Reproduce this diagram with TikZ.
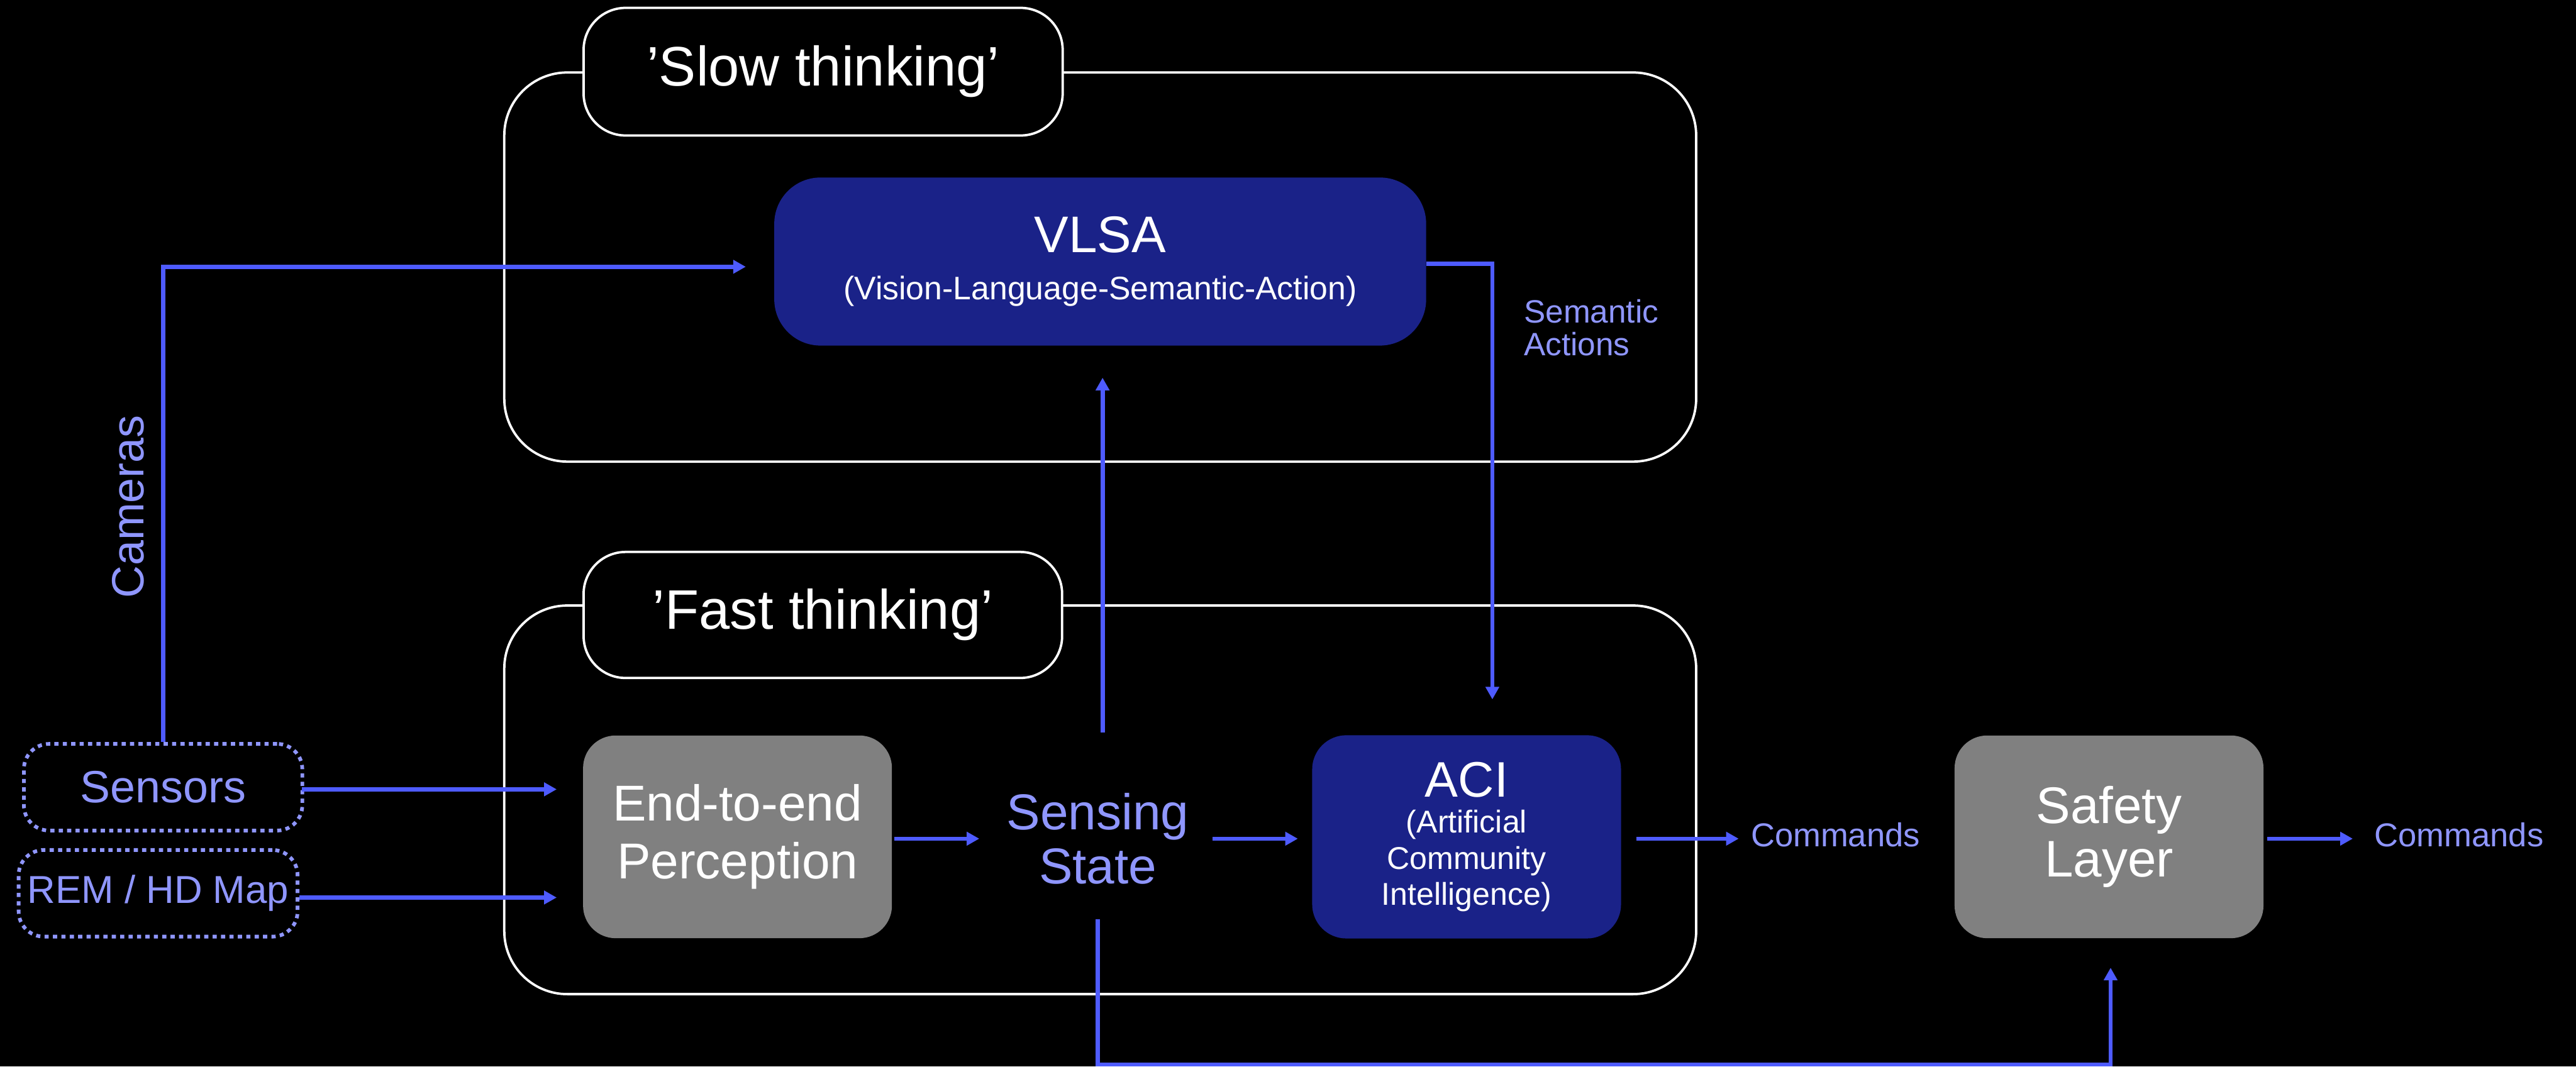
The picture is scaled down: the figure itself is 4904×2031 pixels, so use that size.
\documentclass[tikz,border=0pt]{standalone}
\usepackage{fontspec}
\setmainfont{Liberation Sans}
\usetikzlibrary{arrows.meta}
\definecolor{cblue}{HTML}{4E5BFF}
\definecolor{cpurple}{HTML}{8F96FF}
\definecolor{cnavy}{HTML}{1A2288}
\definecolor{cgray}{HTML}{808080}
\tikzset{
  conn/.style={draw=cblue, line width=8pt, -{Triangle[width=25pt,length=24pt]}},
  bigbox/.style={draw=white, line width=4.5pt, rounded corners=120pt, inner sep=0pt},
  labelbox/.style={draw=white, fill=black, line width=4.5pt, rounded corners=80pt, inner sep=0pt,
    text=white, font=\fontsize{106}{106}\selectfont},
  bluebox/.style={fill=cnavy, inner sep=0pt, text=white, align=center},
  graybox/.style={fill=cgray, inner sep=0pt, text=white, align=center, rounded corners=62pt,
    minimum width=588pt, minimum height=386pt},
  dotbox/.style={draw=cpurple, line width=7pt, dash pattern=on 8pt off 8pt, rounded corners=48pt,
    inner sep=0pt, text=cpurple},
  lbl/.style={text=cpurple, inner sep=0pt},
}
\begin{document}
\begin{tikzpicture}[x=1pt,y=-1pt]
\fill[black] (0,0) rectangle (4904,2031);
\useasboundingbox (0,0) rectangle (4904,2031);

% containers
\node[bigbox, minimum width=2269pt, minimum height=741pt] (slow) at (2094.5,508.5) {};
\node[bigbox, minimum width=2269pt, minimum height=740pt] (fast) at (2094.5,1523) {};
\node[labelbox, minimum width=912pt, minimum height=243pt] (slowlbl) at (1567,136.5) {’Slow thinking’};
\node[labelbox, minimum width=911pt, minimum height=240pt] (fastlbl) at (1566.5,1171) {’Fast thinking’};

% blocks
\node[bluebox, rounded corners=88pt, minimum width=1241pt, minimum height=320pt,
      font=\fontsize{62}{90}\selectfont] (vlsa) at (2094.5,498)
  {{\fontsize{98}{90}\selectfont VLSA}\\{\fontsize{62}{90}\selectfont (Vision-Language-Semantic-Action)}};
\node[graybox, font=\fontsize{96}{110}\selectfont] (perc) at (1404,1593.5) {End-to-end\\Perception};
\node[bluebox, rounded corners=65pt, minimum width=588pt, minimum height=387pt,
      font=\fontsize{60}{69}\selectfont] (aci) at (2792,1593.5)
  {{\fontsize{95}{69}\selectfont ACI}\\(Artificial\\Community\\Intelligence)};
\node[graybox, font=\fontsize{98}{102}\selectfont] (safe) at (4015,1593.5) {Safety\\Layer};

% inputs
\node[dotbox, minimum width=530pt, minimum height=165pt, font=\fontsize{86}{86}\selectfont] (sens) at (310.5,1499) {Sensors};
\node[dotbox, minimum width=531pt, minimum height=165pt, font=\fontsize{74}{74}\selectfont] (rem) at (301,1701) {REM / HD Map};

% labels
\node[lbl, align=center, font=\fontsize{96}{103}\selectfont] (sense) at (2090,1597) {Sensing\\State};
\node[lbl, rotate=90, font=\fontsize{86}{86}\selectfont] (cams) at (244,965) {Cameras};
\node[lbl, anchor=north west, align=left, font=\fontsize{61.5}{62}\selectfont] (sem) at (2901,570) {Semantic\\Actions};
\node[lbl, anchor=west, font=\fontsize{63}{63}\selectfont] (cmd1) at (3333,1590) {Commands};
\node[lbl, anchor=west, font=\fontsize{63}{63}\selectfont] (cmd2) at (4520,1590) {Commands};
\coordinate (bot) at (0,2027);

% connectors
\draw[conn, shorten >=54pt] (sens.north) |- ([yshift=-10pt]vlsa.west);
\draw[conn, shorten <=-4pt, shorten >=50pt] ([yshift=-4pt]sens.east) -- ([yshift=-4pt]sens.east -| perc.west);
\draw[conn, shorten >=50pt] ([yshift=-8pt]rem.east) -- ([yshift=-8pt]rem.east -| perc.west);
\draw[conn, shorten <=4pt, shorten >=52pt] ([yshift=-3.5pt]perc.east) -- ([yshift=-3.5pt]perc.east -| sense.west);
\draw[conn, shorten <=45pt, shorten >=27pt] (sense.east) -- (sense.east -| aci.west);
\draw[conn, shorten <=115pt, shorten >=61pt] ([xshift=9pt]sense.north) -- ([xshift=9pt]sense.north |- vlsa.south);
\draw[conn, shorten >=68pt] ([yshift=-4pt]vlsa.east) -| ([xshift=49pt]aci.north);
\draw[conn, shorten <=29pt, shorten >=23pt] ([yshift=-3.5pt]aci.east) -- ([yshift=-3.5pt]aci.east -| cmd1.west);
\draw[conn, shorten <=7pt, shorten >=41pt] ([yshift=-3.5pt]safe.east) -- ([yshift=-3.5pt]safe.east -| cmd2.west);
\draw[conn, shorten <=67pt, shorten >=56pt] (sense.south) -- (sense.south |- bot) -| ([xshift=3pt]safe.south);
\end{tikzpicture}
\end{document}
